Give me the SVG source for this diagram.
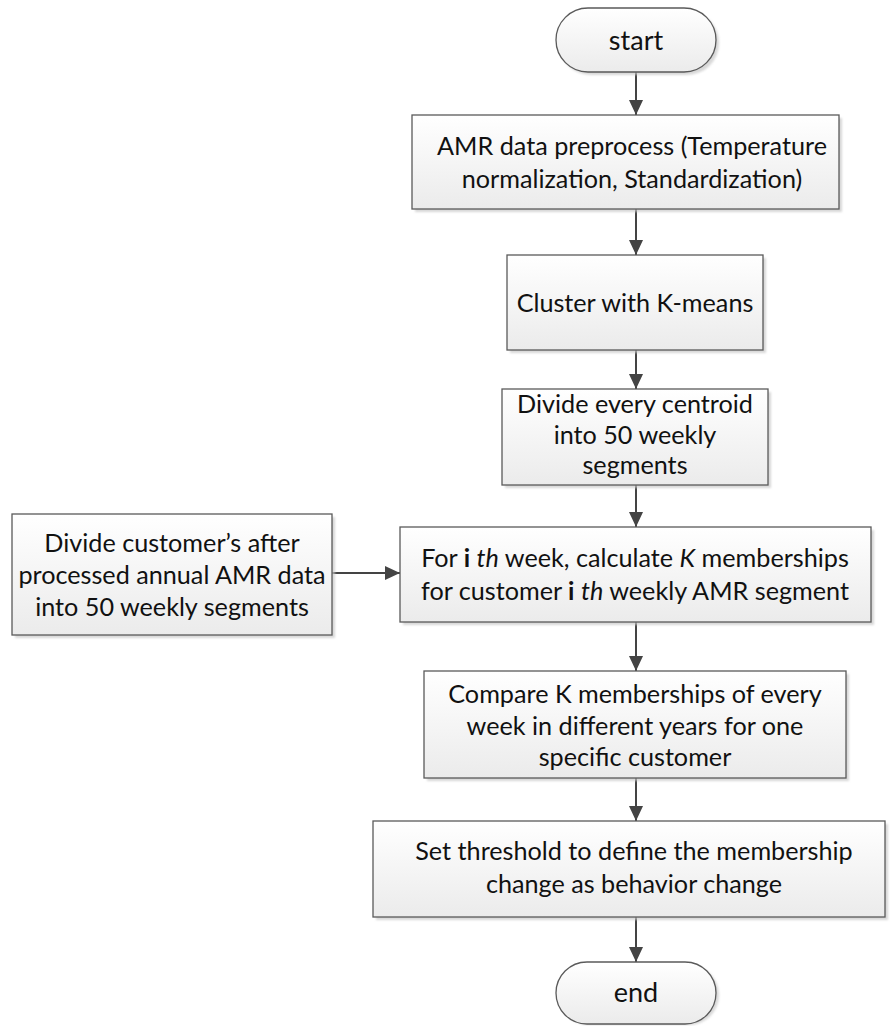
<svg xmlns="http://www.w3.org/2000/svg" width="890" height="1026" viewBox="0 0 890 1026">
<style>
.box{fill:url(#g);stroke:#5a5a5a;stroke-width:1.3}
.sh{fill:#c8c8c8;opacity:0.7;filter:url(#blur)}
.t{font-family:Lato,"Liberation Sans",sans-serif;font-size:25.2px;fill:#111;text-anchor:middle}
.c{stroke:#444;stroke-width:2;fill:none;marker-end:url(#ah)}
.b{font-weight:bold}
.i{font-style:italic}
</style>
<defs>
<linearGradient id="g" x1="0" y1="0" x2="0" y2="1">
<stop offset="0" stop-color="#ffffff"/>
<stop offset="1" stop-color="#ebebeb"/>
</linearGradient>
<filter id="blur" x="-10%" y="-10%" width="120%" height="120%"><feGaussianBlur stdDeviation="1.2"/></filter>
<marker id="ah" markerUnits="userSpaceOnUse" markerWidth="15" markerHeight="14" refX="15" refY="7" orient="auto">
<path d="M0,0 L15,7 L0,14 z" fill="#444"/>
</marker>
</defs>
<rect width="890" height="1026" fill="#fff"/>
<g id="connectors">
<line class="c" x1="636" y1="72" x2="636" y2="115"/>
<line class="c" x1="636" y1="209" x2="636" y2="255"/>
<line class="c" x1="636" y1="350" x2="636" y2="389"/>
<line class="c" x1="636" y1="485" x2="636" y2="527"/>
<line class="c" x1="332" y1="573" x2="400" y2="573"/>
<line class="c" x1="636" y1="622" x2="636" y2="671"/>
<line class="c" x1="636" y1="778" x2="636" y2="821"/>
<line class="c" x1="636" y1="917" x2="636" y2="962"/>
</g>
<g id="start">
<rect class="sh" x="559" y="11" width="160" height="64" rx="32"/>
<rect class="box" x="556" y="8" width="160" height="64" rx="32"/>
<text class="t" x="636" y="50" style="font-size:27px">start</text>
</g>
<g id="preprocess">
<rect class="sh" x="415" y="118" width="427" height="94"/>
<rect class="box" x="412" y="115" width="427" height="94"/>
<text class="t" x="632" y="155">AMR data preprocess (Temperature</text>
<text class="t" x="632" y="188">normalization, Standardization)</text>
</g>
<g id="cluster">
<rect class="sh" x="510" y="258" width="256" height="95"/>
<rect class="box" x="507" y="255" width="256" height="95"/>
<text class="t" x="635" y="312">Cluster with K-means</text>
</g>
<g id="divide-centroid">
<rect class="sh" x="505" y="392" width="266" height="96"/>
<rect class="box" x="502" y="389" width="266" height="96"/>
<text class="t" x="635" y="413">Divide every centroid</text>
<text class="t" x="635" y="444">into 50 weekly</text>
<text class="t" x="635" y="474">segments</text>
</g>
<g id="divide-customer">
<rect class="sh" x="15" y="517" width="320" height="121"/>
<rect class="box" x="12" y="514" width="320" height="121"/>
<text class="t" x="172" y="552">Divide customer’s after</text>
<text class="t" x="172" y="584">processed annual AMR data</text>
<text class="t" x="172" y="616">into 50 weekly segments</text>
</g>
<g id="memberships">
<rect class="sh" x="403" y="530" width="471" height="95"/>
<rect class="box" x="400" y="527" width="471" height="95"/>
<text class="t" x="635" y="567">For <tspan class="b">i</tspan> <tspan class="i">th</tspan> week, calculate <tspan class="i">K</tspan> memberships</text>
<text class="t" x="635" y="600">for customer <tspan class="b">i</tspan> <tspan class="i">th</tspan> weekly AMR segment</text>
</g>
<g id="compare">
<rect class="sh" x="427" y="674" width="422" height="107"/>
<rect class="box" x="424" y="671" width="422" height="107"/>
<text class="t" x="635" y="703">Compare K memberships of every</text>
<text class="t" x="635" y="735">week in different years for one</text>
<text class="t" x="635" y="766">specific customer</text>
</g>
<g id="threshold">
<rect class="sh" x="376" y="824" width="512" height="96"/>
<rect class="box" x="373" y="821" width="512" height="96"/>
<text class="t" x="634" y="860">Set threshold to define the membership</text>
<text class="t" x="634" y="893">change as behavior change</text>
</g>
<g id="end">
<rect class="sh" x="559" y="965" width="160" height="60" rx="30"/>
<rect class="box" x="556" y="962" width="160" height="62" rx="31"/>
<text class="t" x="636" y="1002" style="font-size:27px">end</text>
</g>
</svg>
